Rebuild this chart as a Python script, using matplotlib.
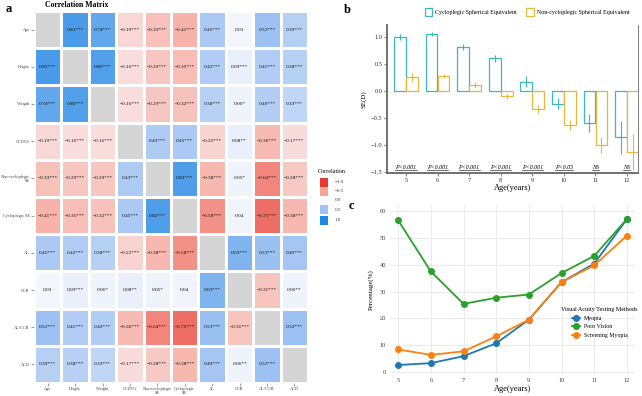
import numpy as np
import matplotlib
matplotlib.use('Agg')
import matplotlib.pyplot as plt
from matplotlib.colors import LinearSegmentedColormap
from matplotlib.patches import Patch, Rectangle

plt.rcParams['font.family'] = ['Liberation Serif', 'DejaVu Serif']

# ---------------- data: panel a ----------------
x_labels = ['Age', 'Height', 'Weight', 'CCDVA', 'Non-cycloplegic\nSE', 'Cycloplegic\nSE',
            'AL', 'CCR', 'AL/CCR', 'ACD']
y_labels = ['Age', 'Height', 'Weight', 'CCDVA', 'Non-cycloplegic\nSE', 'Cycloplegic SE',
            'AL', 'CCR', 'AL/CCR', 'ACD']
corr = [
    [1.00, 0.83, 0.74, -0.19, -0.33, -0.41, 0.45, 0.03, 0.52, 0.39],
    [0.83, 1.00, 0.80, -0.16, -0.29, -0.35, 0.42, 0.09, 0.41, 0.38],
    [0.74, 0.80, 1.00, -0.16, -0.29, -0.32, 0.38, 0.06, 0.40, 0.33],
    [-0.19, -0.16, -0.16, 1.00, 0.43, 0.45, -0.22, 0.08, -0.36, -0.17],
    [-0.33, -0.29, -0.29, 0.43, 1.00, 0.82, -0.38, 0.05, -0.64, -0.28],
    [-0.41, -0.35, -0.32, 0.45, 0.82, 1.00, -0.58, 0.04, -0.75, -0.38],
    [0.45, 0.42, 0.38, -0.22, -0.38, -0.58, 1.00, 0.63, 0.53, 0.49],
    [0.03, 0.09, 0.06, 0.08, 0.05, 0.04, 0.63, 1.00, -0.31, 0.06],
    [0.52, 0.41, 0.40, -0.36, -0.64, -0.75, 0.53, -0.31, 1.00, 0.52],
    [0.39, 0.38, 0.33, -0.17, -0.28, -0.38, 0.49, 0.06, 0.52, 1.00],
]
stars = [
    ['', '***', '***', '***', '***', '***', '***', '', '***', '***'],
    ['***', '', '***', '***', '***', '***', '***', '***', '***', '***'],
    ['***', '***', '', '***', '***', '***', '***', '*', '***', '***'],
    ['***', '***', '***', '', '***', '***', '***', '**', '***', '***'],
    ['***', '***', '***', '***', '', '***', '***', '*', '***', '***'],
    ['***', '***', '***', '***', '***', '', '***', '', '***', '***'],
    ['***', '***', '***', '***', '***', '***', '', '***', '***', '***'],
    ['', '***', '*', '**', '*', '', '***', '', '***', '**'],
    ['***', '***', '***', '***', '***', '***', '***', '***', '', '***'],
    ['***', '***', '***', '***', '***', '***', '***', '**', '***', ''],
]
legend_levels = [-1.0, -0.5, 0.0, 0.5, 1.0]

# ---------------- data: panel b ----------------
ages = [5, 6, 7, 8, 9, 10, 11, 12]
cyclo_se = [1.00, 1.05, 0.81, 0.60, 0.17, -0.24, -0.59, -0.86]
cyclo_err = [0.05, 0.04, 0.05, 0.07, 0.10, 0.10, 0.17, 0.30]
noncyclo_se = [0.26, 0.28, 0.11, -0.10, -0.33, -0.63, -1.00, -1.13]
noncyclo_err = [0.07, 0.04, 0.05, 0.05, 0.07, 0.09, 0.15, 0.33]
p_labels = ['P<0.001', 'P<0.001', 'P<0.001', 'P<0.001', 'P<0.001', 'P<0.05', 'NS', 'NS']

# ---------------- data: panel c ----------------
myopia = [2.6, 3.3, 5.9, 10.7, 19.5, 33.5, 40.4, 57.0]
poor_vision = [56.6, 37.5, 25.4, 27.7, 28.9, 36.9, 43.3, 57.0]
screening_myopia = [8.4, 6.4, 7.7, 13.3, 19.5, 33.5, 39.8, 50.8]

W, H = 642, 396
fig = plt.figure(figsize=(W / 100, H / 100), dpi=100)


def fax(l, t, r, b):
    return fig.add_axes([l / W, 1 - b / H, (r - l) / W, (b - t) / H])


# ================= panel a =================
cmap = LinearSegmentedColormap.from_list(
    'corr', [(0.0, '#e53935'), (0.25, '#f7a397'), (0.5, '#f8f9fd'),
             (0.75, '#a3c4f3'), (1.0, '#1e88e5')])
cmap.set_bad('#d5d5d5')
M = np.array(corr, dtype=float)
n = M.shape[0]
mask = np.eye(n, dtype=bool)
Mm = np.ma.masked_array(M, mask=mask)

axa = fax(34, 11, 308, 383)
axa.pcolormesh(np.arange(n + 1), np.arange(n + 1), Mm, cmap=cmap, vmin=-1, vmax=1,
               edgecolors='white', linewidth=0.8)
axa.set_xlim(0, n)
axa.set_ylim(n, 0)
for i in range(n):
    for j in range(n):
        if i == j:
            continue
        axa.text(j + 0.5, i + 0.5, f"{M[i, j]:.2f}{stars[i][j]}".replace('-', '\u2212'),
                 ha='center', va='center', fontsize=3.8, color='#111111')
axa.set_xticks(np.arange(n) + 0.5)
axa.set_xticklabels(x_labels, fontsize=3.2, color='#444444', linespacing=0.9)
axa.set_yticks(np.arange(n) + 0.5)
axa.set_yticklabels(y_labels, fontsize=3.2, color='#444444', linespacing=0.9, ha='right')
axa.tick_params(length=2, width=0.4, color='#555555', pad=1)
for s in axa.spines.values():
    s.set_visible(False)
fig.text(45 / W, 1 - 5 / H, 'Correlation Matrix', fontsize=5.6, fontweight='bold', va='center')
fig.text(6 / W, 1 - 9 / H, 'a', fontsize=9, fontweight='bold', va='center')

# colour legend
fig.text(318 / W, 1 - 171 / H, 'Correlation', fontsize=4.3, va='center')
ys = [182, 191, 200, 210, 220]
for lev, yy in zip(legend_levels, ys):
    col = cmap((lev + 1) / 2)
    fig.add_artist(Rectangle((320 / W, 1 - (yy + 4.5) / H), 8 / W, 9 / H,
                             transform=fig.transFigure, facecolor=col, edgecolor='none'))
    fig.text(335 / W, 1 - yy / H, f"{lev:.1f}".replace('-', '\u2212'), fontsize=3.6,
             va='center', color='#333333')

# ================= panel b =================
axb = fax(387, 25, 638, 173)
x = np.array(ages, dtype=float)
bw = 0.37
c_cy = '#3bb6c4'
c_nc = '#e5b73b'
axb.bar(x - 0.19, cyclo_se, width=bw, facecolor='white', edgecolor=c_cy, linewidth=0.9)
axb.bar(x + 0.19, noncyclo_se, width=bw, facecolor='white', edgecolor=c_nc, linewidth=0.9)
axb.errorbar(x - 0.19, cyclo_se, yerr=cyclo_err, fmt='none', ecolor=c_cy, elinewidth=0.8, capsize=0)
axb.errorbar(x + 0.19, noncyclo_se, yerr=noncyclo_err, fmt='none', ecolor=c_nc, elinewidth=0.8, capsize=0)
axb.set_xlim(4.4, 12.35)
axb.set_ylim(-1.52, 1.22)
axb.set_xticks(ages)
axb.set_yticks([-1.5, -1.0, -0.5, 0.0, 0.5, 1.0])
axb.set_yticklabels([f"{v:.1f}".replace('-', '\u2212') for v in [-1.5, -1.0, -0.5, 0.0, 0.5, 1.0]])
axb.tick_params(labelsize=4.6, length=2, width=0.5, color='#555555', pad=1.5, labelcolor='#333333')
axb.spines['top'].set_visible(False)
for s in ['left', 'bottom']:
    axb.spines[s].set_color('#666666')
    axb.spines[s].set_linewidth(1.3)
axb.spines['right'].set_color('#666666')
axb.spines['right'].set_linewidth(0.6)
axb.set_xlabel('Age(years)', fontsize=6, labelpad=1)
axb.set_ylabel('SE(D)', fontsize=5, labelpad=3)
fig.canvas.draw()
rend = fig.canvas.get_renderer()
for xi, lab in zip(x, p_labels):
    t = axb.text(xi, -1.42, lab, ha='center', va='center', fontsize=4.3, style='italic')
    bb = t.get_window_extent(renderer=rend).transformed(axb.transData.inverted())
    axb.plot([bb.x0, bb.x1], [-1.465, -1.465], color='black', lw=0.4)
handles_b = [Patch(facecolor='white', edgecolor=c_cy, linewidth=0.9, label='Cycloplegic Spherical Equivalent'),
             Patch(facecolor='white', edgecolor=c_nc, linewidth=0.9, label='Non-cycloplegic Spherical Equivalent')]
fig.legend(handles=handles_b, loc='center', bbox_to_anchor=(527 / W, 1 - 12 / H), ncol=2,
           frameon=False, fontsize=4.3, handlelength=1.3, handleheight=1.6, columnspacing=1.5,
           handletextpad=0.5)
fig.text(344 / W, 1 - 10 / H, 'b', fontsize=9, fontweight='bold', va='center')

# ================= panel c =================
axc = fax(390, 205, 635, 374)
axc.plot(ages, myopia, '-o', color='#1f77b4', lw=1.3, ms=4, label='Myopia')
axc.plot(ages, poor_vision, '-o', color='#2ca02c', lw=1.3, ms=4, label='Poor Vision')
axc.plot(ages, screening_myopia, '-o', color='#ff7f0e', lw=1.3, ms=4, label='Screening Myopia')
axc.set_xlim(4.75, 12.25)
axc.set_ylim(-0.75, 62.3)
axc.set_xticks(ages)
axc.set_yticks([0, 10, 20, 30, 40, 50, 60])
axc.grid(True, color='#e8e8e8', lw=0.6)
axc.set_axisbelow(True)
for s in axc.spines.values():
    s.set_visible(False)
axc.tick_params(labelsize=4.6, length=0, pad=3, labelcolor='#444444')
axc.set_xlabel('Age(years)', fontsize=6, labelpad=1)
axc.set_ylabel('Percentage(%)', fontsize=5, labelpad=4)
axc.legend(title='Visual Acuity Testing Methods', loc='upper left',
           bbox_to_anchor=(556 / W, 1 - 302 / H), bbox_transform=fig.transFigure,
           frameon=False, fontsize=4.2, title_fontsize=4.4, handlelength=1.5,
           handletextpad=0.6, labelspacing=0.6)
fig.text(349 / W, 1 - 206 / H, 'c', fontsize=9, fontweight='bold', va='center')

fig.savefig('out.png', dpi=100)
